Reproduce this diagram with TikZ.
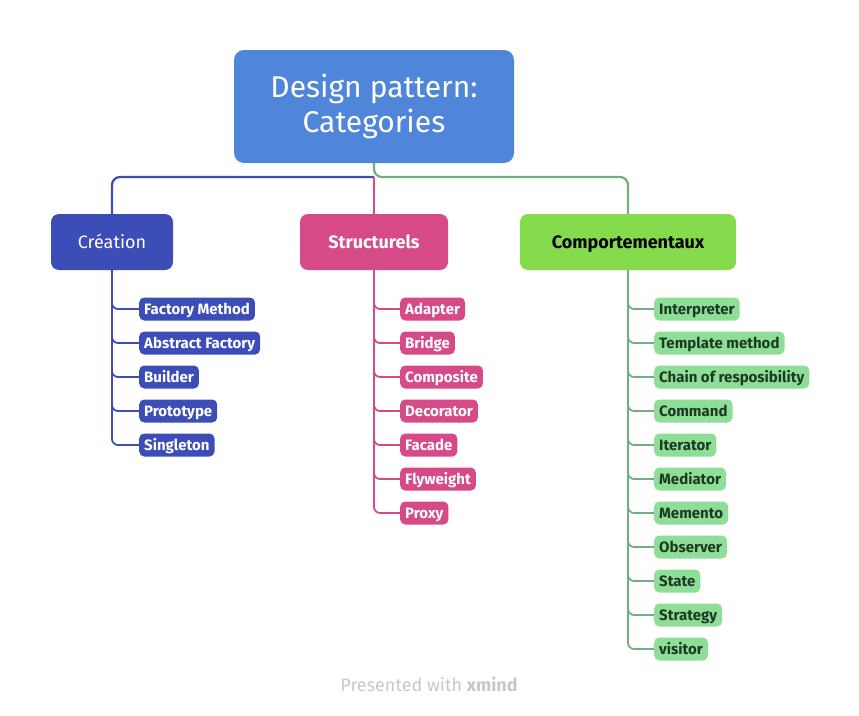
\documentclass[tikz,border=0pt]{standalone}
\usepackage{fontspec}
\setmainfont{Fira Sans}
\usepackage{tikz}
\usetikzlibrary{positioning}
\definecolor{rootblue}{RGB}{79,134,217}
\definecolor{creablue}{RGB}{61,77,183}
\definecolor{strpink}{RGB}{214,74,135}
\definecolor{compgreen}{RGB}{134,219,76}
\definecolor{leafgreen}{RGB}{142,222,152}
\definecolor{linegreen}{RGB}{115,174,130}
\definecolor{darkgreen}{RGB}{28,58,34}
\definecolor{footgray}{RGB}{200,200,200}

\begin{document}
\begin{tikzpicture}[x=1pt, y=-1pt,
    root/.style={fill=rootblue, rounded corners=10pt, text=white, align=center,
        minimum width=280pt, minimum height=113pt, font=\fontsize{30}{35}\selectfont},
    cat/.style={rounded corners=8pt, minimum height=56pt, text height=12.5pt, text depth=0pt,
        font=\fontsize{18}{20}\selectfont},
    leaf/.style={rounded corners=5pt, anchor=west, minimum height=23pt, inner xsep=5pt,
        text height=10.5pt, text depth=0pt, font=\fontsize{15}{17}\selectfont\bfseries},
    crealeaf/.style={leaf, fill=creablue, text=white},
    strleaf/.style={leaf, fill=strpink, text=white},
    compleaf/.style={leaf, fill=leafgreen, text=darkgreen},
    link/.style={line width=2.2pt, rounded corners=8pt},
    twig/.style={line width=1.8pt, rounded corners=6pt}]

    \useasboundingbox (0,0) rectangle (859,715);

        % Root
        \node[root] (root) at (374,106.5) {Design pattern:\\Categories};

        % Categories
        \node[cat, fill=creablue, text=white, minimum width=122pt] (crea) at (112,242) {Création};
        \node[cat, fill=strpink, text=white, minimum width=148pt, font=\fontsize{18}{20}\selectfont\bfseries] (str) at (374,242) {Structurels};
        \node[cat, fill=compgreen, text=black, minimum width=216pt, font=\fontsize{18}{20}\selectfont\bfseries] (comp) at (628,242) {Comportementaux};

        \coordinate (fork) at (374,177);
        \draw[link, linegreen] (root.south) -- (fork) -| (comp.north);
        \draw[link, creablue] (fork) -| (crea.north);
        \draw[link, strpink] (fork) -- (str.north);

        % Création (left)
        \node[crealeaf] (factory) at (139,309) {Factory Method};
        \node[crealeaf] (abstract) at (139,343) {Abstract Factory};
        \node[crealeaf] (builder) at (139,377) {Builder};
        \node[crealeaf] (prototype) at (139,411) {Prototype};
        \node[crealeaf] (singleton) at (139,445) {Singleton};

        \draw[twig, creablue] (crea.south) |- (factory.west);
        \draw[twig, creablue] (crea.south) |- (abstract.west);
        \draw[twig, creablue] (crea.south) |- (builder.west);
        \draw[twig, creablue] (crea.south) |- (prototype.west);
        \draw[twig, creablue] (crea.south) |- (singleton.west);

        % Structurels (middle)
        \node[strleaf] (adapter) at (400,309) {Adapter};
        \node[strleaf] (bridge) at (400,343) {Bridge};
        \node[strleaf] (composite) at (400,377) {Composite};
        \node[strleaf] (decorator) at (400,411) {Decorator};
        \node[strleaf] (facade) at (400,445) {Facade};
        \node[strleaf] (flyweight) at (400,479) {Flyweight};
        \node[strleaf] (proxy) at (400,513) {Proxy};

        \draw[twig, strpink] (str.south) |- (adapter.west);
        \draw[twig, strpink] (str.south) |- (bridge.west);
        \draw[twig, strpink] (str.south) |- (composite.west);
        \draw[twig, strpink] (str.south) |- (decorator.west);
        \draw[twig, strpink] (str.south) |- (facade.west);
        \draw[twig, strpink] (str.south) |- (flyweight.west);
        \draw[twig, strpink] (str.south) |- (proxy.west);

        % Comportementaux (right)
        \node[compleaf] (interpreter) at (654,309) {Interpreter};
        \node[compleaf] (template) at (654,343) {Template method};
        \node[compleaf] (chain) at (654,377) {Chain of resposibility};
        \node[compleaf] (command) at (654,411) {Command};
        \node[compleaf] (iterator) at (654,445) {Iterator};
        \node[compleaf] (mediator) at (654,479) {Mediator};
        \node[compleaf] (memento) at (654,513) {Memento};
        \node[compleaf] (observer) at (654,547) {Observer};
        \node[compleaf] (state) at (654,581) {State};
        \node[compleaf] (strategy) at (654,615) {Strategy};
        \node[compleaf] (visitor) at (654,649) {visitor};

        \draw[twig, linegreen] (comp.south) |- (interpreter.west);
        \draw[twig, linegreen] (comp.south) |- (template.west);
        \draw[twig, linegreen] (comp.south) |- (chain.west);
        \draw[twig, linegreen] (comp.south) |- (command.west);
        \draw[twig, linegreen] (comp.south) |- (iterator.west);
        \draw[twig, linegreen] (comp.south) |- (mediator.west);
        \draw[twig, linegreen] (comp.south) |- (memento.west);
        \draw[twig, linegreen] (comp.south) |- (observer.west);
        \draw[twig, linegreen] (comp.south) |- (state.west);
        \draw[twig, linegreen] (comp.south) |- (strategy.west);
        \draw[twig, linegreen] (comp.south) |- (visitor.west);

        % Footer
        \node[text=footgray, font=\fontsize{18}{20}\selectfont] (footer) at (429,684) {Presented with \textbf{xmind}};

\end{tikzpicture}
\end{document}
